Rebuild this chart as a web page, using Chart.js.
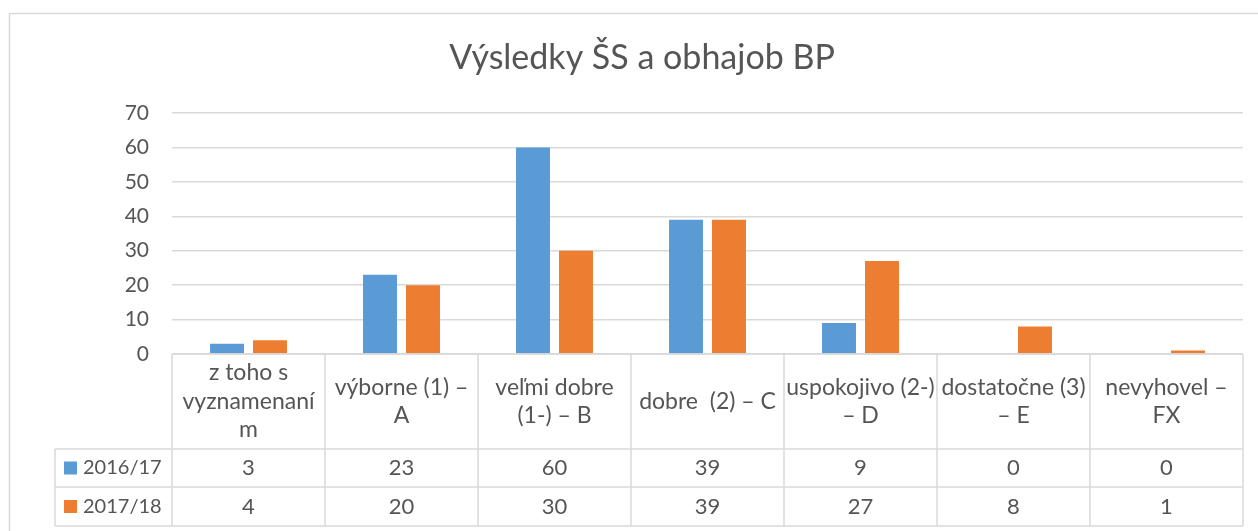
<!DOCTYPE html>
<html>
<head>
<meta charset="utf-8">
<script src="https://cdn.jsdelivr.net/npm/chart.js@4.4.1/dist/chart.umd.min.js"></script>
<style>
  html, body { margin: 0; padding: 0; background: #fff; }
</style>
</head>
<body>
<canvas id="graf" width="1258" height="531"></canvas>
<script>
// data z grafu
const nadpis = 'Výsledky ŠS a obhajob BP';
const kategorie = [
  ['z toho s', 'vyznamenaní', 'm'],
  ['výborne (1) –', 'A'],
  ['veľmi dobre', '(1-) – B'],
  ['dobre  (2) – C'],
  ['uspokojivo (2-)', '– D'],
  ['dostatočne (3)', '– E'],
  ['nevyhovel –', 'FX']
];
const roky = ['2016/17', '2017/18'];
const hodnoty1617 = [3, 23, 60, 39, 9, 0, 0];
const hodnoty1718 = [4, 20, 30, 39, 27, 8, 1];
const osY = [0, 10, 20, 30, 40, 50, 60, 70];

const farby = ['#5b9bd5', '#ed7d31'];
const sivaCiara = '#d9d9d9';
const textFarba = '#555555';
const pismo = 'Lato, "Liberation Sans", sans-serif';

const tabulka = {
  id: 'tabulka',
  afterDraw(chart) {
    const ctx = chart.ctx;
    const x = chart.scales.x;
    const area = chart.chartArea;
    const sirka = x.getPixelForValue(1) - x.getPixelForValue(0);
    const hore = area.bottom;
    const riadky = [hore, hore + 95, hore + 133, hore + 172];
    const lavo = 55;

    ctx.save();
    // ramik grafu
    ctx.strokeStyle = sivaCiara;
    ctx.lineWidth = 1.5;
    ctx.strokeRect(9.5, 13.5, 1270, 540);

    // nadpis
    ctx.fillStyle = textFarba;
    ctx.font = '34px ' + pismo;
    ctx.textAlign = 'center';
    ctx.textBaseline = 'alphabetic';
    ctx.fillText(nadpis, 642, 69);

    // ciary tabulky
    ctx.beginPath();
    ctx.moveTo(area.left, riadky[0]);
    ctx.lineTo(area.right, riadky[0]);
    for (let r = 1; r < riadky.length; r++) {
      ctx.moveTo(lavo, riadky[r]);
      ctx.lineTo(area.right, riadky[r]);
    }
    ctx.moveTo(lavo, riadky[1]);
    ctx.lineTo(lavo, riadky[3]);
    for (let i = 0; i <= kategorie.length; i++) {
      const px = x.getPixelForValue(0) - sirka / 2 + i * sirka;
      ctx.moveTo(px, riadky[0]);
      ctx.lineTo(px, riadky[3]);
    }
    ctx.stroke();

    // hlavicka
    ctx.font = '23px ' + pismo;
    ctx.textBaseline = 'middle';
    ctx.textAlign = 'center';
    const vyskaRiadku = 28.5;
    kategorie.forEach((riadok, i) => {
      const cx = x.getPixelForValue(i);
      const stred = (riadky[0] + riadky[1]) / 2;
      const zac = stred - (riadok.length - 1) * vyskaRiadku / 2;
      riadok.forEach((t, j) => ctx.fillText(t, cx, zac + j * vyskaRiadku));
    });

    // hodnoty a legenda
    chart.data.datasets.forEach((ds, d) => {
      const cy = (riadky[d + 1] + riadky[d + 2]) / 2;
      ctx.font = '22px ' + pismo;
      ctx.textAlign = 'center';
      ctx.fillStyle = textFarba;
      ds.data.forEach((v, i) => ctx.fillText(String(v), x.getPixelForValue(i), cy));
      ctx.fillStyle = ds.backgroundColor;
      ctx.fillRect(64, cy - 6.5, 13, 13);
      ctx.fillStyle = textFarba;
      ctx.textAlign = 'left';
      ctx.font = '20px ' + pismo;
      ctx.fillText(ds.label, 83, cy);
    });
    ctx.restore();
  }
};

new Chart(document.getElementById('graf').getContext('2d'), {
  type: 'bar',
  data: {
    labels: kategorie.map(k => k.join(' ')),
    datasets: [
      { label: roky[0], data: hodnoty1617, backgroundColor: farby[0] },
      { label: roky[1], data: hodnoty1718, backgroundColor: farby[1] }
    ]
  },
  options: {
    responsive: false,
    devicePixelRatio: 1,
    animation: false,
    layout: { padding: { top: 113, right: 15, bottom: 169, left: 0 } },
    datasets: { bar: { categoryPercentage: 0.562, barPercentage: 0.79 } },
    plugins: { legend: { display: false }, tooltip: { enabled: false }, title: { display: false } },
    scales: {
      x: {
        ticks: { display: false },
        grid: { display: false },
        border: { display: false }
      },
      y: {
        min: osY[0],
        max: osY[osY.length - 1],
        afterBuildTicks: s => { s.ticks = osY.map(v => ({ value: v })); },
        afterFit: s => { s.width = 172; },
        ticks: { padding: 23, color: textFarba, font: { family: pismo, size: 21 } },
        grid: { color: sivaCiara, lineWidth: 1.5, drawTicks: false },
        border: { display: false }
      }
    }
  },
  plugins: [tabulka]
});
</script>
</body>
</html>
